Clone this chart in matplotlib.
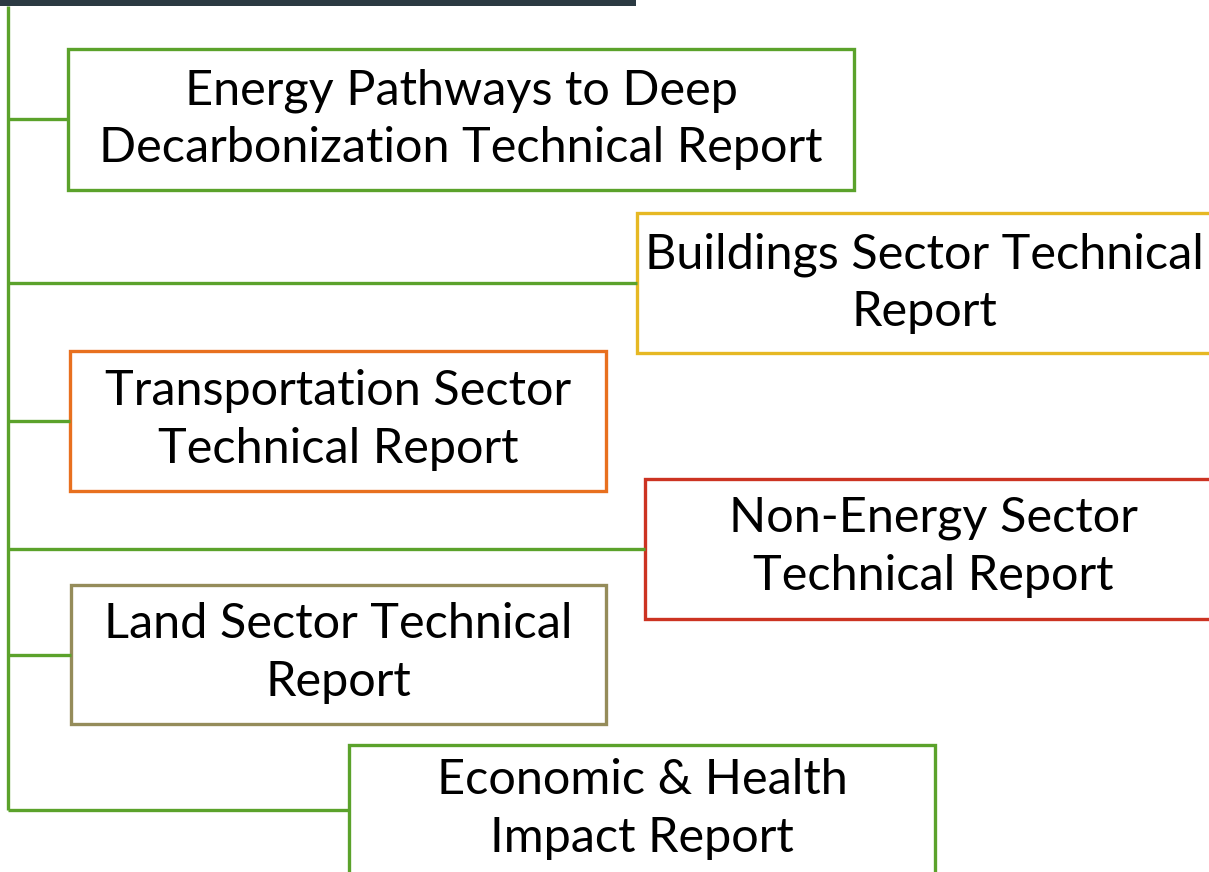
import matplotlib.pyplot as plt
from matplotlib.patches import Rectangle

# report names shown in the boxes
labels = [
    "Energy Pathways to Deep\nDecarbonization Technical Report",
    "Buildings Sector Technical\nReport",
    "Transportation Sector\nTechnical Report",
    "Non-Energy Sector\nTechnical Report",
    "Land Sector Technical\nReport",
    "Economic & Health\nImpact Report",
]

# layout in pixels (x left, x right, y top, y bottom)
box_x0 = [68, 637, 70, 645, 71, 349]
box_x1 = [854, 1220, 606, 1220, 606, 935]
box_y0 = [49, 213, 351, 479, 585, 745]
box_y1 = [190, 353, 491, 619, 724, 890]
text_x = [461, 924, 338, 933, 338, 642]
text_y = [119, 283, 420, 547, 653, 809]
colors = ["#5ba22b", "#e6b824", "#e8701f", "#cc3322", "#958c5a", "#5ba22b"]
green = "#5ba22b"

fig = plt.figure(figsize=(12.09, 8.72), dpi=100)
ax = fig.add_axes([0, 0, 1, 1])
ax.set_xlim(0, 1209)
ax.set_ylim(872, 0)
ax.axis("off")

# dark bar on top
ax.add_patch(Rectangle((0, -2), 636, 8, facecolor="#2b3a42", edgecolor="none"))

# trunk line
ax.plot([8, 8], [6, 810], color=green, lw=2.4, solid_capstyle="butt")

for i in range(len(labels)):
    x0, x1, y0, y1 = box_x0[i], box_x1[i], box_y0[i], box_y1[i]
    ymid = (y0 + y1) / 2 if i < 5 else 810
    ax.plot([8, x0], [ymid, ymid], color=green, lw=2.4, solid_capstyle="butt")
    ax.add_patch(Rectangle((x0, y0), x1 - x0, y1 - y0, facecolor="white",
                           edgecolor=colors[i], lw=2.4, clip_on=True))
    ax.text(text_x[i], text_y[i], labels[i], ha="center", va="center",
            fontsize=35, family="Lato", linespacing=1.37, color="black")

fig.savefig("out.png", dpi=100)
